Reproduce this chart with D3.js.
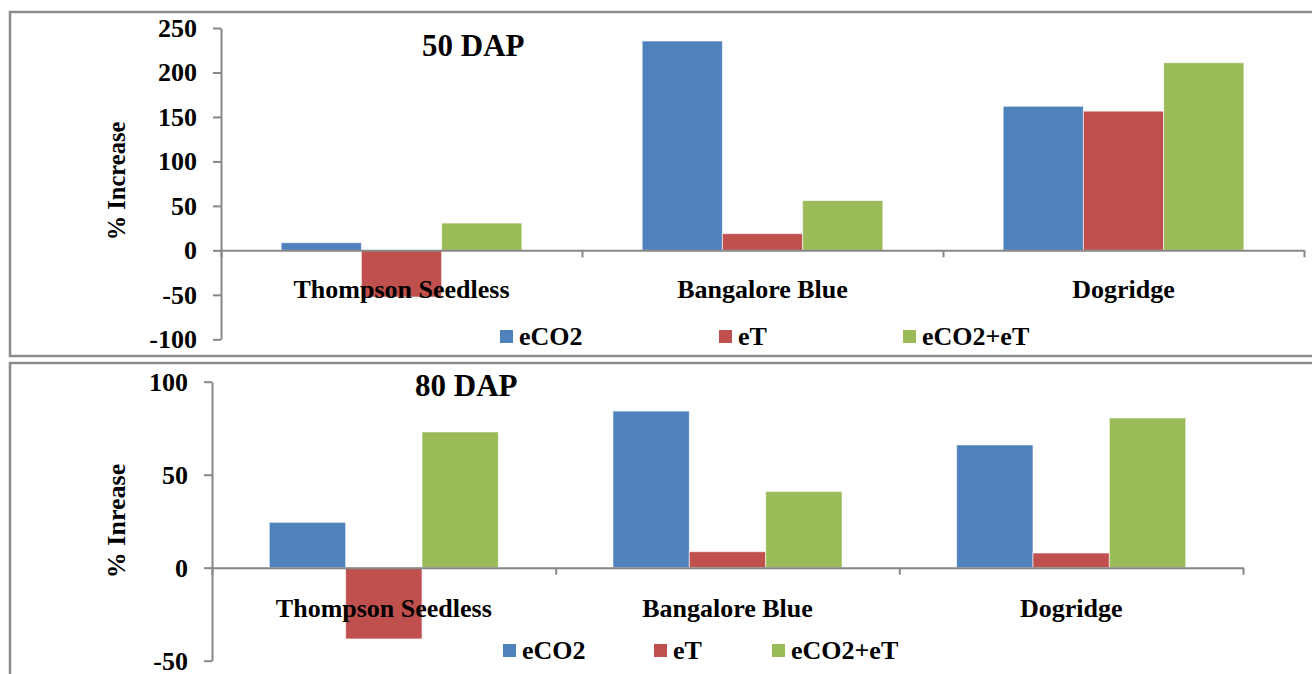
<!DOCTYPE html>
<html>
<head>
<meta charset="utf-8">
<script src="https://cdn.jsdelivr.net/npm/d3@7"></script>
<style>
  body { margin: 0; background: #fff; }
  svg { display: block; font-family: "Liberation Serif", "Times New Roman", serif; font-weight: bold; }
</style>
</head>
<body>
<svg width="1312" height="674"></svg>
<script>
const categories = ["Thompson Seedless", "Bangalore Blue", "Dogridge"];
const seriesNames = ["eCO2", "eT", "eCO2+eT"];
const seriesColors = ["#4F81BD", "#C0504D", "#9BBB59"];

// 50 DAP values (% increase)
const dap50_eCO2 = [8.6, 235.4, 162];
const dap50_eT = [-52.5, 18.8, 156.5];
const dap50_both = [30.7, 56, 211];
const ticks50 = [-100, -50, 0, 50, 100, 150, 200, 250];

// 80 DAP values (% increase)
const dap80_eCO2 = [24.4, 84.2, 66];
const dap80_eT = [-38.3, 8.6, 7.9];
const dap80_both = [73, 41, 80.5];
const ticks80 = [-50, 0, 50, 100];

const svg = d3.select("svg");
const grey = "#878787";

// panel frames
svg.append("rect").attr("x", 10).attr("y", 12).attr("width", 1320).attr("height", 344)
    .attr("fill", "none").attr("stroke", "#8c8c8c").attr("stroke-width", 2.5);
svg.append("rect").attr("x", 10).attr("y", 363).attr("width", 1320).attr("height", 340)
    .attr("fill", "none").attr("stroke", "#8c8c8c").attr("stroke-width", 2.5);

function drawPanel(p) {
    const g = svg.append("g");

    const y = d3.scaleLinear().domain(p.domain).range(p.yRange);
    const x0 = d3.scaleBand().domain(categories).range(p.xRange).padding(0);
    const w = x0.bandwidth() / 4.5;  // excel gap width 150%
    const x1 = d3.scaleBand().domain(seriesNames).range([0.75 * w, 3.75 * w]);

    const rows = categories.map((c, i) => ({
        cat: c,
        vals: seriesNames.map((s, j) => ({ s, v: p.values[j][i], color: seriesColors[j] }))
    }));

    const groups = g.selectAll(".cat").data(rows).enter().append("g")
        .attr("transform", d => `translate(${x0(d.cat)},0)`);

    groups.selectAll("rect").data(d => d.vals).enter().append("rect")
        .attr("x", d => x1(d.s))
        .attr("width", x1.bandwidth())
        .attr("y", d => y(Math.max(0, d.v)))
        .attr("height", d => Math.abs(y(d.v) - y(0)))
        .attr("fill", d => d.color)
        .attr("stroke", "rgba(255,255,255,0.6)")
        .attr("stroke-width", 1);

    // y axis
    const yAxis = g.append("g")
        .attr("transform", `translate(${p.xRange[0]},0)`)
        .call(d3.axisLeft(y).tickValues(p.ticks).tickSize(8).tickSizeOuter(0).tickPadding(16).tickFormat(d => String(d)));
    yAxis.select(".domain").attr("stroke", grey).attr("stroke-width", 2);
    yAxis.selectAll(".tick line").attr("stroke", grey).attr("stroke-width", 2);
    yAxis.selectAll("text").attr("fill", "#000").style("font-size", "26px")
        .style("font-family", "Liberation Serif").style("font-weight", "bold");

    // category axis at zero
    const xb = d3.scaleLinear().domain([0, categories.length]).range(p.xRange);
    const xAxis = g.append("g")
        .attr("transform", `translate(0,${y(0)})`)
        .call(d3.axisBottom(xb).tickValues(d3.range(categories.length + 1)).tickSize(7).tickSizeOuter(0).tickFormat(""));
    xAxis.select(".domain").attr("stroke", grey).attr("stroke-width", 2);
    xAxis.selectAll(".tick line").attr("stroke", grey).attr("stroke-width", 2);

    g.selectAll(".catlabel").data(categories).enter().append("text")
        .attr("x", d => x0(d) + x0.bandwidth() / 2)
        .attr("y", y(0) + p.labelOffset)
        .attr("text-anchor", "middle")
        .style("font-size", "26px")
        .text(d => d);

    // titles
    g.append("text").attr("x", p.titleX).attr("y", p.titleY)
        .style("font-size", "31px").text(p.title);

    g.append("text")
        .attr("transform", `translate(${p.yTitleX},${p.yTitleY}) rotate(-90)`)
        .attr("text-anchor", "middle")
        .style("font-size", p.yTitleSize)
        .text(p.yTitle);

    // legend
    const leg = g.selectAll(".leg").data(seriesNames).enter().append("g")
        .attr("transform", (d, i) => `translate(${p.legendX[i]},${p.legendY})`);
    leg.append("rect").attr("x", 0).attr("y", -15).attr("width", 13).attr("height", 13)
        .attr("fill", (d, i) => seriesColors[i]);
    leg.append("text").attr("x", 19).attr("y", 0).style("font-size", "26px").text(d => d);
}

drawPanel({
    values: [dap50_eCO2, dap50_eT, dap50_both],
    ticks: ticks50,
    domain: [-100, 250],
    yRange: [339.3, 28],
    xRange: [221, 1304],
    labelOffset: 48,
    title: "50 DAP", titleX: 422, titleY: 56,
    yTitle: "% Increase", yTitleX: 125, yTitleY: 181, yTitleSize: "24.5px",
    legendX: [500, 719, 903], legendY: 345
});

drawPanel({
    values: [dap80_eCO2, dap80_eT, dap80_both],
    ticks: ticks80,
    domain: [-50, 100],
    yRange: [660.7, 381.7],
    xRange: [212, 1243],
    labelOffset: 49,
    title: "80 DAP", titleX: 415, titleY: 396,
    yTitle: "% Inrease", yTitleX: 125, yTitleY: 521, yTitleSize: "26px",
    legendX: [503, 654, 772], legendY: 659
});
</script>
</body>
</html>
